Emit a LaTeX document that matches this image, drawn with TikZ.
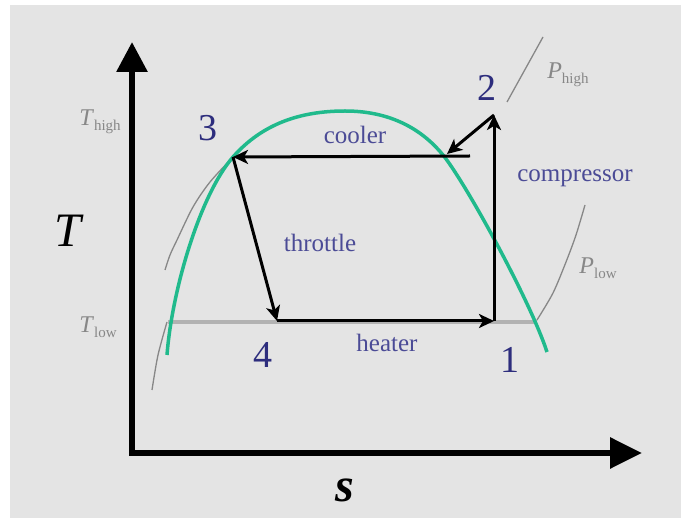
\documentclass[tikz,border=0pt]{standalone}
\usepackage{fontspec}
\setmainfont{Liberation Serif}
\usetikzlibrary{arrows.meta}

\definecolor{bggray}{RGB}{228,228,228}
\definecolor{satgreen}{RGB}{32,186,140}
\definecolor{numblue}{RGB}{45,45,125}
\definecolor{txtblue}{RGB}{75,75,150}
\definecolor{isogray}{RGB}{135,135,135}
\definecolor{tlowgray}{RGB}{178,178,178}

\newcommand{\sublbl}[2]{\textit{#1}\raisebox{-0.5ex}{\fontsize{15}{15}\selectfont #2}}

\begin{document}
\begin{tikzpicture}[
  x=1pt, y=-1pt,
  every node/.style={inner sep=0pt},
  axis/.style={draw, line width=6pt, line join=miter,
    {Triangle[length=30pt,width=30pt]}-{Triangle[length=32pt,width=30pt]}},
  stage/.style={draw, line width=3pt, -{Stealth[length=15pt,width=14pt,inset=4pt]}},
  dome/.style={draw=satgreen, line width=3.5pt},
  isobar/.style={draw=isogray, line width=1.3pt},
  num/.style={text=numblue, font=\fontsize{38}{40}\selectfont},
  proc/.style={text=txtblue, font=\fontsize{25}{28}\selectfont},
  iso/.style={text=isogray, font=\fontsize{24}{26}\selectfont},
  axlabel/.style={font=\fontsize{48}{50}\selectfont}
]
% frame
\useasboundingbox (0,0) rectangle (681,518);
\fill[white] (0,0) rectangle (681,518);
\fill[bggray] (10,5) rectangle (681,518);

% cycle states
\coordinate (p1) at (494,321);
\coordinate (p2) at (494,115);
\coordinate (p3) at (233,157);
\coordinate (p4) at (277,321);
\coordinate (pc) at (447,154);
\coordinate (cend) at (470,156);

% axes
\coordinate (origin) at (132,453);
\coordinate (ytip) at (132,42);
\coordinate (xtip) at (642,453);
\draw[axis] (ytip) -- (origin) -- (xtip);

% isotherm T_low and isobars
\draw[tlowgray, line width=3.5pt] (168,322) -- (537,322);
\draw[isobar] plot[smooth] coordinates {(152,390) (158,355) (167,322)};
\draw[isobar] plot[smooth] coordinates {(165,270) (170,255) (177,240)
  (193,207) (210,182) (233,157)};
\draw[isobar] (507,102) -- (543,37);
\draw[isobar] plot[smooth] coordinates {(537,320) (553,293) (566,262) (576,235) (585,205)};

% saturation dome
\draw[dome] (167,355) .. controls (172,290) and (200,195) .. (p3)
  .. controls (262,124) and (300,111) .. (345,111)
  .. controls (395,111) and (425,133) .. (443,155)
  .. controls (465,182) and (530,300) .. (547,352);

% processes
\draw[stage] (p1) -- (p2);
\draw[stage] (p2) -- (pc);
\draw[stage] (cend) -- (p3);
\draw[stage] (p3) -- (p4);
\draw[stage] (p4) -- (p1);

% labels
\node[num] (n1) at (510,360) {1};
\node[num] (n2) at (487,88) {2};
\node[num] (n3) at (208,128) {3};
\node[num] (n4) at (263,355) {4};
\node[proc] (cooler) at (355,135) {cooler};
\node[proc] (compressor) at (575,178) {compressor};
\node[proc] (throttle) at (320,243) {throttle};
\node[proc] (heater) at (387,343) {heater};
\node[iso] (thigh) at (100,122) {\sublbl{T}{high}};
\node[iso] (tlow) at (98,327) {\sublbl{T}{low}};
\node[iso] (phigh) at (568,75) {\sublbl{P}{high}};
\node[iso] (plow) at (598,268) {\sublbl{P}{low}};
\node[axlabel] (tlabel) at (69,231) {\textit{T}};
\node[axlabel] (slabel) at (345,490) {\textbf{\textit{s}}};
\end{tikzpicture}
\end{document}
